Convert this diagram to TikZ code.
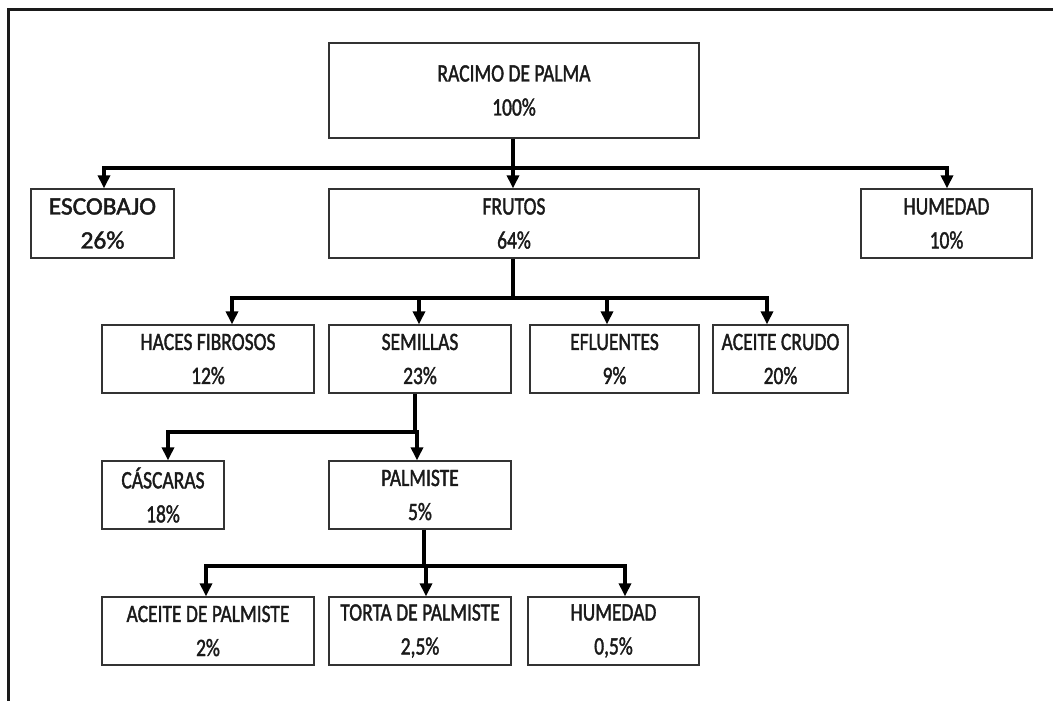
\documentclass[tikz,border=0pt]{standalone}
\usepackage{fontspec}
\setmainfont{Carlito}
\newfontfamily\boxfont{Carlito}[FakeBold=1.8]
\usetikzlibrary{arrows.meta}
\definecolor{ink}{HTML}{1A1A1A}
\definecolor{edge}{HTML}{333333}
% two stacked lines, slightly tall letters
\newcommand\pair[2]{\scalebox{1}[1.28]{#1}\\\scalebox{1}[1.28]{#2}}
% same, widened for the escobajo box
\newcommand\widepair[2]{\scalebox{1.3}[1.28]{#1}\\\scalebox{1.3}[1.28]{#2}}
\tikzset{
  box/.style={draw=edge, line width=1.3pt, inner sep=0pt, align=center,
    text=ink, font=\boxfont\fontsize{19.5}{34}\selectfont},
  flow/.style={draw=black, line width=4pt, line join=miter,
    -{Triangle[width=12pt,length=13pt]}},
  stem/.style={draw=black, line width=4pt},
  frame/.style={draw=ink, line width=3pt},
}
\begin{document}
\begin{tikzpicture}[x=1pt,y=-1pt]
\useasboundingbox (0,0) rectangle (1053,701);
% outer frame: top and left edges only
\draw[frame] (8.5,701) -- (8.5,10) -- (1053,10);

% level 0 and 1
\node[box, minimum width=370pt, minimum height=95pt] (rac) at (514,90.5) {\pair{RACIMO DE PALMA}{100\%}};
\node[box, minimum width=370pt, minimum height=69pt] (fru) at (514,223.5) {\pair{FRUTOS}{64\%}};
\node[box, minimum width=143pt, minimum height=69pt] (esc) at (102.5,223.5) {\widepair{ESCOBAJO}{26\%}};
\node[box, minimum width=171pt, minimum height=69pt] (hum) at (946.5,223.5) {\pair{HUMEDAD}{10\%}};

% level 2
\node[box, minimum width=212pt, minimum height=68pt] (hac) at (208,359) {\pair{HACES FIBROSOS}{12\%}};
\node[box, minimum width=182pt, minimum height=68pt] (sem) at (420,359) {\pair{SEMILLAS}{23\%}};
\node[box, minimum width=169pt, minimum height=68pt] (efl) at (614.5,359) {\pair{EFLUENTES}{9\%}};
\node[box, minimum width=135pt, minimum height=68pt] (acr) at (780.5,359) {\pair{ACEITE CRUDO}{20\%}};

% level 3
\node[box, minimum width=122pt, minimum height=68pt] (cas) at (163,495) {\pair{CÁSCARAS}{18\%}};
\node[box, minimum width=182pt, minimum height=68pt] (pal) at (420,495) {\pair{PALMISTE}{5\%}};

% level 4
\node[box, minimum width=212pt, minimum height=68pt] (acp) at (208,631) {\pair{ACEITE DE PALMISTE}{2\%}};
\node[box, minimum width=182pt, minimum height=68pt] (tor) at (420,631) {\pair{TORTA DE PALMISTE}{2,5\%}};
\node[box, minimum width=171pt, minimum height=68pt] (hm2) at (613.5,631) {\pair{HUMEDAD}{0,5\%}};

% junctions on the distribution lines
\coordinate (j1) at (513,168);
\coordinate (j2) at (513,298);
\coordinate (j3) at (415,432);
\coordinate (j4) at (424,566);

% racimo -> escobajo / frutos / humedad
\draw[flow] (rac.south -| j1) -- (fru.north -| j1);
\draw[flow] (j1) -| ([xshift=1.5pt]esc.north);
\draw[flow] (j1) -| ([xshift=0.5pt]hum.north);

% frutos -> products
\draw[stem] (fru.south -| j2) -- (j2);
\draw[flow] (j2) -| ([xshift=24pt]hac.north);
\draw[flow] (j2) -| ([xshift=-1pt]sem.north);
\draw[flow] (j2) -| ([xshift=-7.5pt]efl.north);
\draw[flow] (j2) -| ([xshift=-13.5pt]acr.north);

% semillas -> cascaras / palmiste
\draw[stem] (sem.south -| j3) -- (j3);
\draw[flow] (j3) -| ([xshift=5pt]cas.north);
\draw[flow] (j3) -- ++(2,0) -- ([xshift=-3pt]pal.north);

% palmiste -> final products
\draw[stem] (pal.south -| j4) -- (j4);
\draw[flow] (j4) -| ([xshift=-2pt]acp.north);
\draw[flow] (j4) -| ([xshift=6pt]tor.north);
\draw[flow] (j4) -| ([xshift=11.5pt]hm2.north);
\end{tikzpicture}
\end{document}
